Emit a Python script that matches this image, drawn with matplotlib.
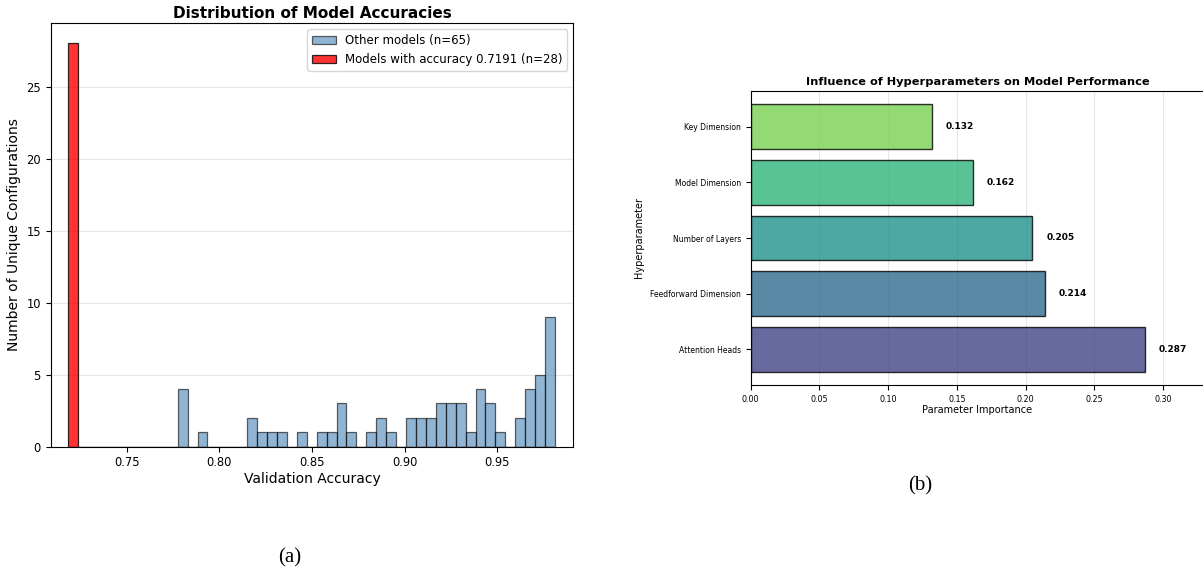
import numpy as np
import matplotlib
matplotlib.use("Agg")
import matplotlib.pyplot as plt

# histogram bins shared by both groups of models
bin_start = 0.7186
bin_stop = 0.9811
n_bins = 49

# counts per bin for the "other" models (bin index -> count)
other_bins = [11, 13, 18, 19, 20, 21, 23, 25, 26, 27, 28, 30, 31, 32,
              34, 35, 36, 37, 38, 39, 40, 41, 42, 43, 45, 46, 47, 48]
other_counts = [4, 1, 2, 1, 1, 1, 1, 1, 1, 3, 1, 1, 2, 1,
                2, 2, 2, 3, 3, 3, 1, 4, 3, 1, 2, 4, 5, 9]
peak_accuracy = 0.7191
peak_count = 28

params = ["Attention Heads", "Feedforward Dimension", "Number of Layers",
          "Model Dimension", "Key Dimension"]
importance = [0.287, 0.214, 0.205, 0.162, 0.132]

edges = np.linspace(bin_start, bin_stop, n_bins + 1)
centers = (edges[:-1] + edges[1:]) / 2
other_vals = np.repeat(centers[other_bins], other_counts)
peak_vals = np.full(peak_count, peak_accuracy)

W, H = 1203, 573
fig = plt.figure(figsize=(W / 100, H / 100), dpi=100)

def box(x0, y0, x1, y1):
    return [x0 / W, 1 - y1 / H, (x1 - x0) / W, (y1 - y0) / H]

# (a) accuracy histogram
ax1 = fig.add_axes(box(50.7, 23.3, 573.3, 446.7))
ax1.hist(other_vals, bins=edges, color="steelblue", alpha=0.6,
         edgecolor="black", linewidth=0.9, label=f"Other models (n={len(other_vals)})")
ax1.hist(peak_vals, bins=edges, color="red", alpha=0.8, edgecolor="black",
         linewidth=0.9, label=f"Models with accuracy {peak_accuracy} (n={peak_count})")
ax1.set_xlim(0.709, 0.991)
ax1.set_xticks([0.75, 0.80, 0.85, 0.90, 0.95])
ax1.set_title("Distribution of Model Accuracies", fontsize=11, fontweight="bold", pad=4)
ax1.set_xlabel("Validation Accuracy", fontsize=10, labelpad=2)
ax1.set_ylabel("Number of Unique Configurations", fontsize=10)
ax1.tick_params(labelsize=8.3)
ax1.grid(axis="y", alpha=0.3)
ax1.set_axisbelow(True)
ax1.legend(loc="upper right", fontsize=8.5)

# (b) hyperparameter importance
colors = plt.cm.viridis(np.linspace(0.2, 0.8, len(params)))
ax2 = fig.add_axes(box(750.5, 91, 1204.5, 385))
bars = ax2.barh(params, importance, color=colors, alpha=0.8,
                edgecolor="black", linewidth=1)
for b, v in zip(bars, importance):
    ax2.text(v + 0.01, b.get_y() + b.get_height() / 2, f"{v:.3f}",
             va="center", fontsize=6.5, fontweight="bold")
ax2.set_xlim(0, max(importance) * 1.15)
ax2.set_title("Influence of Hyperparameters on Model Performance",
              fontsize=8.2, fontweight="bold", pad=4)
ax2.set_xlabel("Parameter Importance", fontsize=7, labelpad=1)
ax2.set_ylabel("Hyperparameter", fontsize=7)
ax2.tick_params(axis="x", labelsize=5.8)
ax2.tick_params(axis="y", labelsize=5.5)
ax2.grid(axis="x", alpha=0.3)
ax2.set_axisbelow(True)

fig.text(290 / W, 1 - 558 / H, "(a)", family="Liberation Serif", fontsize=15,
         ha="center", va="center")
fig.text(920 / W, 1 - 486 / H, "(b)", family="Liberation Serif", fontsize=15,
         ha="center", va="center")

fig.savefig("out.png", dpi=100)
